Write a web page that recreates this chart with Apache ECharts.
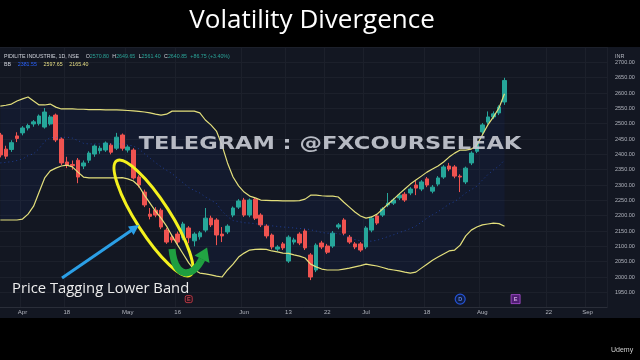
<!DOCTYPE html>
<html><head><meta charset="utf-8">
<script src="https://cdn.jsdelivr.net/npm/echarts/dist/echarts.min.js"></script>
<style>
html,body{margin:0;padding:0;background:#000;}
#wrap{position:relative;width:640px;height:360px;overflow:hidden;background:#000;}
#pane{position:absolute;left:0;top:47px;width:640px;height:271px;background:#131722;}
#chart{position:absolute;left:0;top:0;width:640px;height:360px;}
</style></head>
<body><div id="wrap"><div id="pane"></div><div id="chart"></div></div>
<script>
// ---- data ----
const openP = [2463,2417,2416,2460,2470,2486,2499,2500,2489,2499, 2528,2450,2375,2367,2381,2362,2381,2401,2412,2414, 2430,2420,2463,2414,2414,2326,2277,2205,2218,2218, 2153,2130,2140,2127,2160,2118,2131,2153,2192,2186, 2140,2147,2202,2228,2251,2202,2254,2202,2166,2137, 2091,2108,2052,2114,2140,2150,2072,2023,2111,2101, 2101,2163,2186,2130,2108,2108,2098,2153,2199,2202, 2235,2241,2258,2270,2274,2300,2287,2320,2280,2303, 2326,2362,2359,2329,2310,2372,2410,2473,2505,2522, 2535,2570.80];
const closeP = [2398,2394,2438,2452,2486,2494,2506,2525,2538,2522, 2447,2372,2365,2363,2326,2372,2404,2427,2420,2437, 2407,2456,2420,2424,2323,2300,2235,2198,2202,2163, 2114,2121,2114,2173,2128,2140,2144,2192,2170,2137, 2134,2166,2225,2248,2202,2251,2192,2170,2134,2098, 2098,2095,2130,2121,2111,2095,2000,2104,2098,2081, 2143,2170,2143,2114,2098,2088,2160,2192,2176,2222, 2241,2251,2267,2251,2287,2290,2310,2300,2293,2323, 2359,2352,2329,2326,2355,2404,2440,2496,2522,2532, 2554.10,2640.85];
const lowP = [2390,2385,2408,2440,2462,2478,2490,2494,2484,2494, 2440,2365,2355,2350,2306,2352,2372,2392,2402,2408, 2400,2414,2412,2406,2318,2292,2228,2188,2195,2156, 2108,2112,2106,2120,2110,2100,2122,2146,2163,2104, 2114,2140,2195,2222,2196,2195,2186,2163,2126,2090, 2084,2088,2046,2106,2104,2088,1990,2016,2091,2075, 2095,2156,2137,2108,2091,2082,2091,2146,2170,2196, 2228,2235,2251,2245,2267,2267,2280,2293,2273,2296, 2320,2345,2322,2277,2303,2365,2404,2466,2498,2515, 2528,2561.40];
const highP = [2470,2428,2446,2472,2492,2500,2512,2530,2551,2528, 2533,2455,2392,2380,2388,2380,2410,2432,2428,2442, 2436,2470,2468,2430,2420,2332,2285,2225,2228,2224, 2160,2140,2148,2180,2166,2146,2150,2225,2200,2192, 2163,2172,2230,2254,2258,2256,2260,2208,2172,2142, 2104,2114,2136,2128,2146,2156,2078,2110,2118,2108, 2150,2176,2192,2137,2114,2114,2166,2198,2205,2228, 2274,2258,2274,2277,2293,2313,2316,2326,2300,2329, 2365,2372,2365,2335,2360,2410,2448,2502,2540,2540, 2560,2649.65];
const upperBB = [2557,2560,2564,2574,2581,2587,2574,2561,2561,2564, 2554,2548,2548,2548,2547,2547,2546,2546,2546,2545, 2545,2545,2544,2543,2542,2540,2538,2535,2531,2528, 2531,2541,2541,2541,2541,2541,2535,2512,2496,2476, 2430,2372,2326,2297,2277,2264,2258,2251,2250,2249, 2249,2248,2248,2248,2249,2254,2267,2267,2265,2264, 2264,2261,2244,2228,2212,2199,2192,2196,2205,2222, 2238,2254,2271,2287,2303,2316,2329,2342,2352,2362, 2375,2391,2404,2414,2414,2417,2430,2463,2496,2522, 2551,2597.65];
const midBB = [2372,2374,2376,2380,2385,2396,2402,2419,2442,2455, 2455,2455,2456,2453,2445,2436,2434,2434,2434,2434, 2434,2434,2434,2431,2427,2418,2402,2388,2373,2360, 2348,2337,2322,2307,2292,2282,2274,2261,2251,2240, 2215,2197,2184,2181,2177,2176,2174,2171,2170,2167, 2165,2163,2162,2160,2158,2158,2154,2150,2145,2143, 2143,2142,2135,2128,2122,2118,2117,2117,2120,2126, 2132,2138,2145,2151,2158,2166,2179,2192,2203,2213, 2225,2238,2246,2259,2274,2285,2296,2316,2334,2349, 2362,2381.55];
const lowerBB = [2186,2186,2186,2186,2189,2205,2231,2277,2323,2346, 2355,2362,2365,2359,2342,2326,2323,2323,2323,2323, 2323,2323,2324,2320,2313,2297,2267,2241,2215,2192, 2166,2134,2104,2075,2046,2023,2013,2010,2007,2003, 2000,2023,2042,2065,2078,2088,2090,2091,2090,2085, 2082,2078,2077,2072,2068,2062,2042,2033,2026,2023, 2023,2023,2026,2029,2033,2037,2042,2039,2036,2031, 2026,2023,2020,2016,2013,2016,2029,2042,2055,2065, 2075,2085,2088,2104,2134,2153,2163,2170,2173,2176, 2174,2165.40];
const SLOTS = 110; // trading-day slots shown on the time axis (incl. empty future)
const tickIdx = [4,12,23,32,44,52,59,66,77,87,99,106];
const tickText = ['Apr','18','May','16','Jun','13','22','Jul','18','Aug','22','Sep'];
const eventIdx = [34,83,93];
const eventText = ['E','D','E'];
const priceTicks = {min:1900, max:2750, step:50};

// ---- build ----
const cats = [];
for (let i = 0; i < SLOTS; i++) cats.push('d' + i);
const candles = openP.map((o, i) => [o, closeP[i], lowP[i], highP[i]]);
const bandWidth = upperBB.map((u, i) => +(u - lowerBB[i]).toFixed(2));
const last = closeP[closeP.length - 1];
const EVENT_Y = 1928;
const evStyles = [
  {symbol:'roundRect', symbolSize:[7,7], itemStyle:{color:'rgba(60,10,20,0.6)', borderColor:'#d8414c', borderWidth:1}, label:{color:'#e05560'}},
  {symbol:'circle', symbolSize:10, itemStyle:{color:'#10204e', borderColor:'#2962ff', borderWidth:1.2}, label:{color:'#6f98ff'}},
  {symbol:'rect', symbolSize:[9,9], itemStyle:{color:'#5e1f86', borderColor:'#b050d8', borderWidth:1}, label:{color:'#efc8ff'}}
];
const evData = eventIdx.map((ix, k) => ({
  value:[ix, EVENT_Y], symbol:evStyles[k].symbol, symbolSize:evStyles[k].symbolSize,
  itemStyle:evStyles[k].itemStyle,
  label:Object.assign({show:true, formatter:eventText[k], position:'inside', fontSize:5.5, fontFamily:'Liberation Sans', fontWeight:'bold'}, evStyles[k].label)
}));
const isTick = (i) => tickIdx.indexOf(i) >= 0;

const chart = echarts.init(document.getElementById('chart'), null, {renderer:'canvas'});
chart.setOption({
  animation:false,
  backgroundColor:'transparent',
  grid:{left:-2.4, right:33, top:47, bottom:52.3, containLabel:false, outerBoundsMode:'none'},
  xAxis:{
    type:'category', data:cats, boundaryGap:true,
    axisLine:{show:true, lineStyle:{color:'#2a2e39'}},
    axisTick:{show:false},
    axisLabel:{interval:(i)=>isTick(i), formatter:(v,i)=>{const k=tickIdx.indexOf(i); return k>=0?tickText[k]:'';},
      color:'#b2b5be', fontSize:6, margin:2, fontFamily:'Liberation Sans', hideOverlap:false},
    splitLine:{show:true, interval:(i)=>isTick(i), lineStyle:{color:'#1c202b'}}
  },
  yAxis:{
    type:'value', position:'right', min:priceTicks.min, max:priceTicks.max, interval:priceTicks.step,
    axisLine:{show:false}, axisTick:{show:false},
    splitLine:{lineStyle:{color:'#1c202b'}},
    axisLabel:{color:'#b2b5be', fontSize:5.5, margin:8, fontFamily:'Liberation Sans',
      showMinLabel:false, showMaxLabel:false, formatter:(v)=>v.toFixed(2)}
  },
  series:[
    {type:'line', data:lowerBB, stack:'bb', symbol:'none', lineStyle:{width:0, opacity:0}, silent:true, z:1},
    {type:'line', data:bandWidth, stack:'bb', symbol:'none', lineStyle:{width:0, opacity:0},
      areaStyle:{color:'rgba(41,98,255,0.08)'}, silent:true, z:1},
    {type:'candlestick', data:candles, barWidth:'74%', z:3,
      itemStyle:{color:'#26a69a', color0:'#ef5350', borderColor:'#26a69a', borderColor0:'#ef5350', borderWidth:1},
      markLine:{symbol:'none', silent:true, animation:false,
        data:[{yAxis:last}], lineStyle:{width:0, opacity:0},
        label:{show:true, position:'end', distance:2, formatter:last.toFixed(2), backgroundColor:'#26a69a',
          color:'#ffffff', fontSize:6, padding:[2,3], fontFamily:'Liberation Sans'}}},
    {type:'line', data:midBB, symbol:'none', silent:true, z:4,
      lineStyle:{color:'rgba(41,98,255,0.5)', width:1, type:[1,3]}},
    {type:'line', data:upperBB, symbol:'none', silent:true, z:5, lineStyle:{color:'#e3df7c', width:1.2}},
    {type:'line', data:lowerBB, symbol:'none', silent:true, z:5, lineStyle:{color:'#e3df7c', width:1.2}},
    {type:'scatter', data:evData, silent:true, z:6}
  ],
  graphic:[
    {type:'text', x:312, y:21, z:100, style:{text:'Volatility Divergence', font:'400 26px "Open Sans"', fill:'#ffffff',
      align:'center', verticalAlign:'middle', textAlign:'center', textVerticalAlign:'middle'}},
    {type:'text', x:4, y:57, z:100, style:{
      text:'{n|PIDILITE INDUSTRIE, 1D, NSE}  {k|O}{v|2570.80} {k|H}{v|2649.65} {k|L}{v|2561.40} {k|C}{v|2640.85} {v|+86.75 (+3.40%)}',
      verticalAlign:'middle', textVerticalAlign:'middle',
      rich:{n:{fill:'#d1d4dc', fontSize:5.3, fontFamily:'Liberation Sans'}, k:{fill:'#d1d4dc', fontSize:5.3, fontFamily:'Liberation Sans'}, v:{fill:'#2aa397', fontSize:5.3, fontFamily:'Liberation Sans'}}}},
    {type:'text', x:4, y:65, z:100, style:{
      text:'{n|BB}  {b|2381.55}  {y|2597.65}  {y|2165.40}',
      verticalAlign:'middle', textVerticalAlign:'middle',
      rich:{n:{fill:'#d1d4dc', fontSize:5.3, fontFamily:'Liberation Sans'}, b:{fill:'#2962ff', fontSize:5.3, fontFamily:'Liberation Sans'}, y:{fill:'#e8df86', fontSize:5.3, fontFamily:'Liberation Sans'}}}},
    {type:'text', x:615, y:56, z:100, style:{text:'INR', font:'5.5px "Liberation Sans"', fill:'#b2b5be', verticalAlign:'middle', textVerticalAlign:'middle'}},
    {type:'text', x:330, y:144, scaleX:1.25, z:90, style:{text:'TELEGRAM : @FXCOURSELEAK', font:'bold 18px "DejaVu Sans"',
      fill:'rgba(198,201,209,0.92)', align:'center', verticalAlign:'middle', textAlign:'center', textVerticalAlign:'middle'}},
    {type:'ellipse', x:153.5, y:218, rotation:-1.0, z:100, shape:{cx:0, cy:0, rx:68, ry:17},
      style:{fill:'none', stroke:'#f4f11e', lineWidth:3}},
    {type:'bezierCurve', z:100, shape:{x1:172, y1:249, cpx1:175, cpy1:280, cpx2:193, cpy2:278, x2:202, y2:259},
      style:{fill:'none', stroke:'#1f9e40', lineWidth:7}},
    {type:'polygon', z:100, shape:{points:[[207.1,247.5],[209.5,263],[194.5,255.5]]}, style:{fill:'#22a443'}},
    {type:'line', z:100, shape:{x1:62, y1:278, x2:132, y2:230}, style:{stroke:'#2b9fe6', lineWidth:3}},
    {type:'polygon', z:100, shape:{points:[[139,225],[133.6,235],[128,226.4]]}, style:{fill:'#2b9fe6'}},
    {type:'text', x:12, y:289, z:100, style:{text:'Price Tagging Lower Band', font:'400 14.8px "Open Sans"', fill:'#ececec',
      verticalAlign:'middle', textVerticalAlign:'middle'}},
    {type:'text', x:611, y:350, z:100, style:{text:'Udemy', font:'7px "Liberation Sans"', fill:'#cfcfcf', verticalAlign:'middle', textVerticalAlign:'middle'}}
  ]
});
</script></body></html>
